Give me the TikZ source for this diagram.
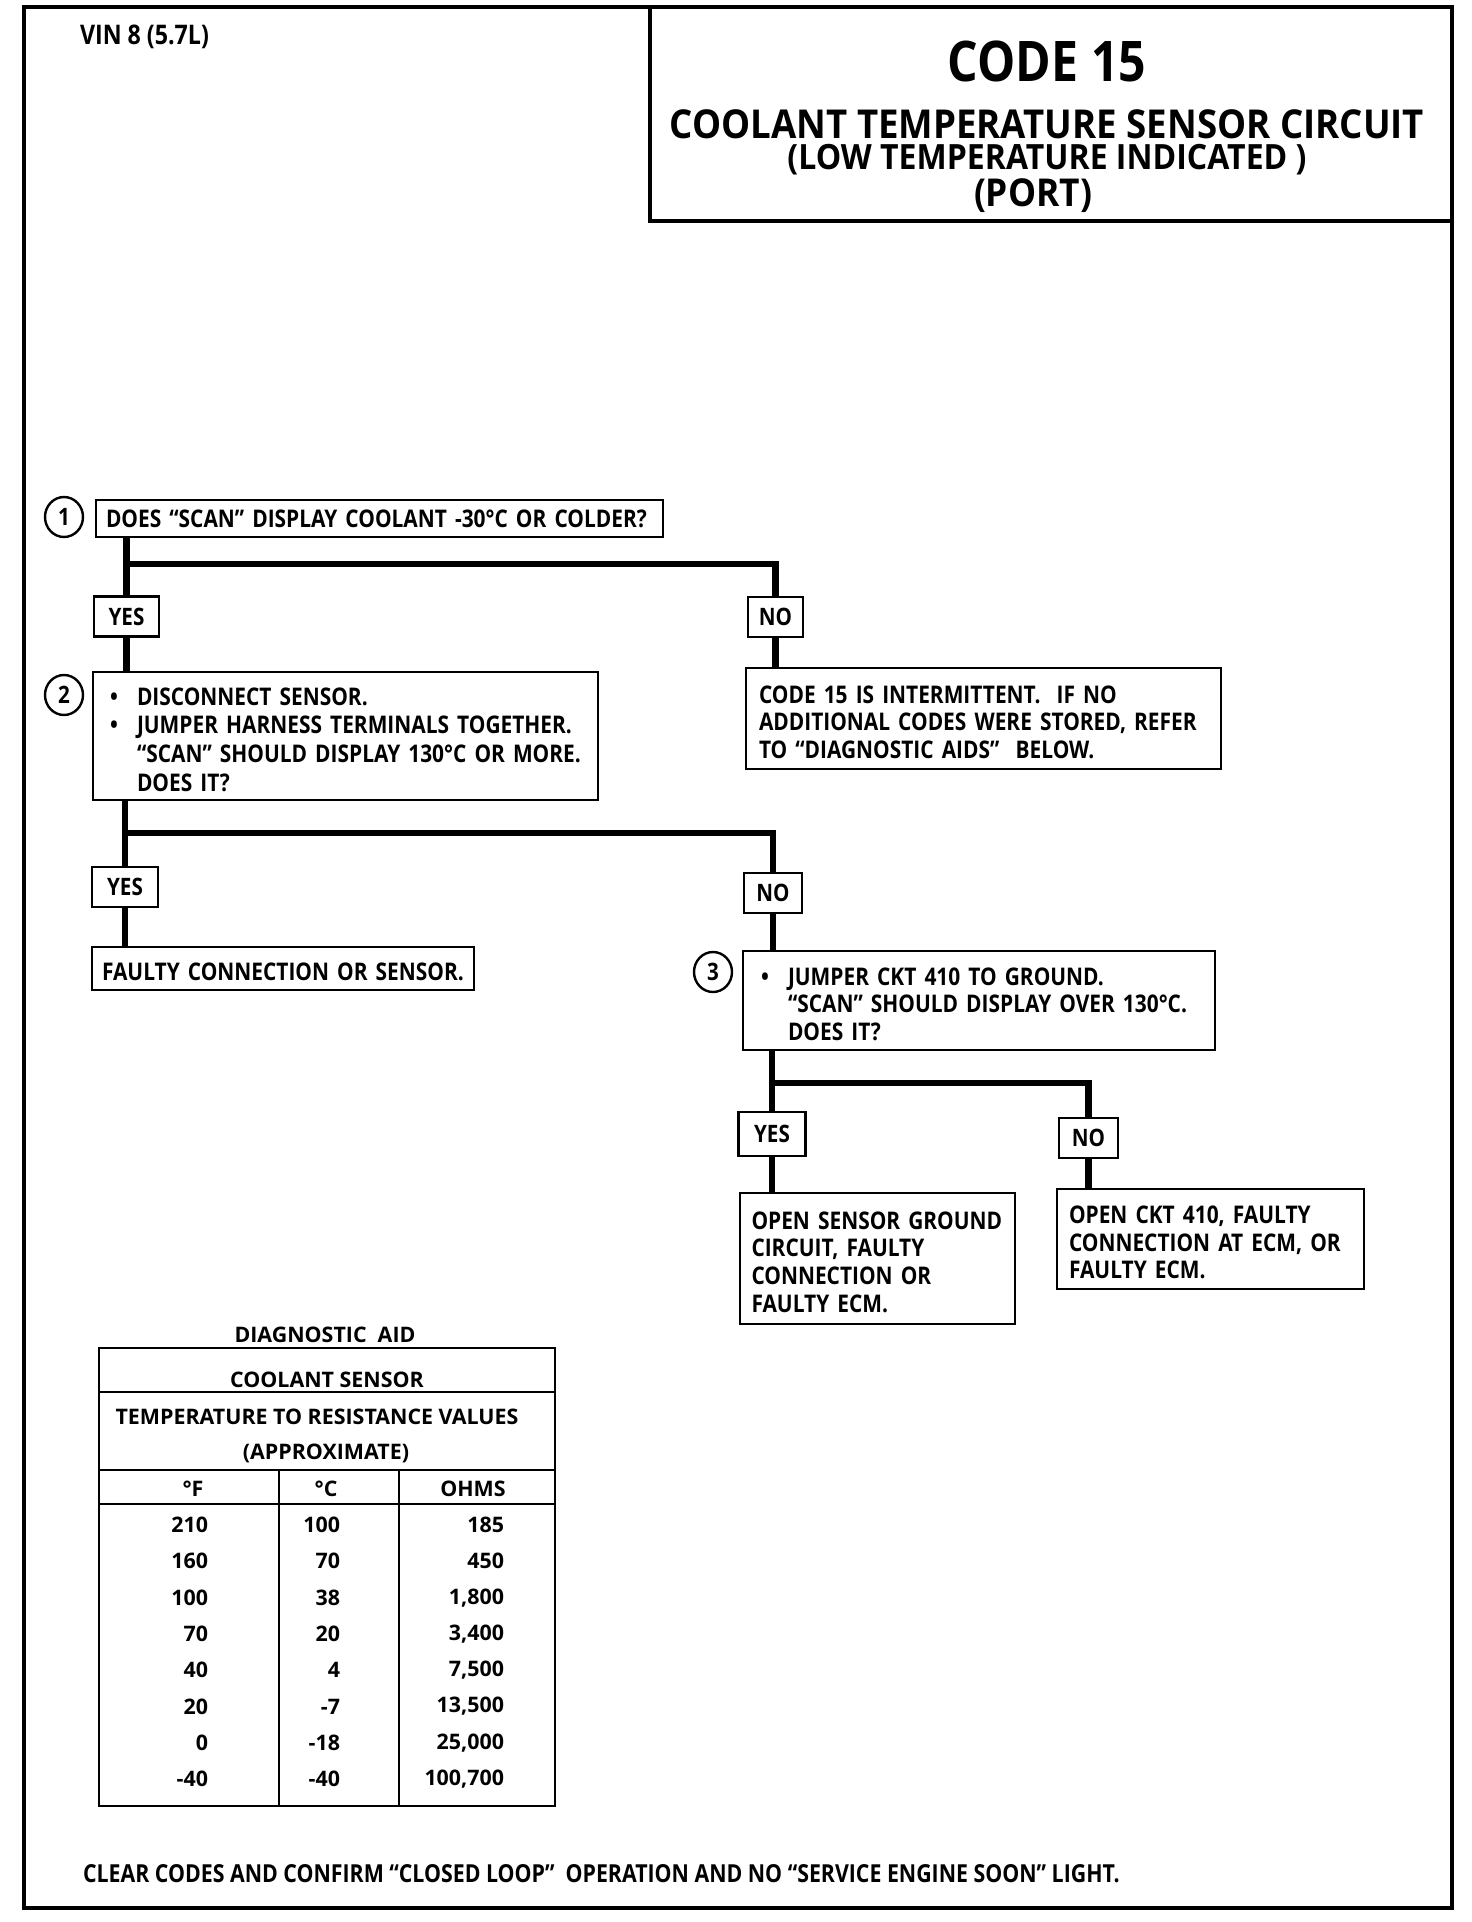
\documentclass[tikz,border=0pt]{standalone}
\usepackage{fontspec}
\setmainfont{Open Sans}[FakeStretch=0.86]
\newfontfamily\tabfont{Open Sans}
\newfontfamily\ttlfont{Open Sans}[FakeStretch=0.92]
\usetikzlibrary{shapes.geometric}
\newcommand{\bitem}{\makebox[13.5pt][l]{•}}
\newcommand{\bindent}{\hspace*{13.5pt}}
\newcommand{\lne}[1]{\mbox{#1}}
\begin{document}
\begin{tikzpicture}[x=0.5pt,y=-0.5pt,
  every node/.style={inner sep=0pt, outer sep=0pt},
  body/.style={font=\bfseries\fontsize{12.15}{13.8}\selectfont},
  box/.style={body, draw, line width=1.2pt, anchor=north west, align=left},
  lower/.style={execute at begin node={\rule{0pt}{12.4pt}}},
  ans/.style={draw, line width=1.2pt, minimum height=20pt, font=\bfseries\fontsize{12}{14}\selectfont},
  num/.style={draw, ellipse, line width=1.2pt, minimum width=19pt, minimum height=20pt, font=\bfseries\fontsize{12}{13}\selectfont},
  trunk/.style={line width=3.2pt},
  tab/.style={font=\tabfont\bfseries\fontsize{10.7}{12.8}\selectfont},
  rule/.style={line width=1.2pt}
]
\useasboundingbox (0,0) rectangle (1472,1922);
\fill[white] (0,0) rectangle (1472,1922);
% frame and title box
\draw[line width=2pt] (24,7) rectangle (1452,1908);
\node[draw, line width=1.6pt, anchor=north west, minimum width=401pt, minimum height=107pt] (titlebox) at (650,7) {};
\node[font=\bfseries\fontsize{13.5}{15}\selectfont, anchor=west] (vin) at (80,37) {VIN 8 (5.7L)};
\node[font=\bfseries\fontsize{28}{30}\selectfont] (code) at (1047,61) {CODE 15};
\node[font=\ttlfont\bfseries\fontsize{19.9}{22}\selectfont] (tline) at (1047,124) {COOLANT TEMPERATURE SENSOR CIRCUIT};
\node[font=\ttlfont\bfseries\fontsize{17.4}{20}\selectfont] (low) at (1047,160) {(LOW TEMPERATURE INDICATED )};
\node[font=\ttlfont\bfseries\fontsize{19.2}{22}\selectfont] (port) at (1033,196) {(PORT)};

% step 1
\node[num] (c1) at (64,517) {1};
\node[box, text width=273.5pt, inner xsep=5pt, minimum height=18.5pt] (q1) at (96,500) {\lne{DOES “SCAN” DISPLAY COOLANT -30°C OR COLDER?}};
\node[ans, minimum width=32.5pt] (y1) at (126.5,616.5) {YES};
\node[ans, minimum width=27.5pt] (n1) at (775.5,617) {NO};
\node[box, lower, text width=224.5pt, inner xsep=6.5pt, minimum height=50.5pt] (r1) at (746,668) {\lne{CODE 15 IS INTERMITTENT.\ \ IF NO}\\\lne{ADDITIONAL CODES WERE STORED,\ REFER}\\\lne{TO “DIAGNOSTIC AIDS”\ \ BELOW.}};
\coordinate (j1) at (0,564);

% step 2
\node[num] (c2) at (64,695) {2};
\node[box, lower, font=\bfseries\fontsize{12.15}{14.3}\selectfont, text width=235.5pt, inner xsep=8.5pt, minimum height=64pt] (q2) at (93,672) {\lne{\bitem DISCONNECT SENSOR.}\\\lne{\bitem JUMPER HARNESS TERMINALS TOGETHER.}\\\lne{\bindent “SCAN” SHOULD DISPLAY 130°C OR MORE.}\\\lne{\bindent DOES IT?}};
\node[ans, minimum width=33pt] (y2) at (125,887) {YES};
\node[ans, minimum width=29pt] (n2) at (773,893) {NO};
\node[box, lower, text width=181pt, inner xsep=5pt, minimum height=21.5pt] (r2) at (92,947) {\lne{FAULTY CONNECTION OR SENSOR.}};
\coordinate (j2) at (0,833);

% step 3
\node[num] (c3) at (713,972) {3};
\node[box, lower, text width=218pt, inner xsep=9pt, minimum height=49.5pt] (q3) at (743,951) {\lne{\bitem JUMPER CKT 410 TO GROUND.}\\\lne{\bindent “SCAN” SHOULD DISPLAY OVER 130°C.}\\\lne{\bindent DOES IT?}};
\node[ans, minimum width=33.5pt, minimum height=22pt] (y3) at (772,1134) {YES};
\node[ans, minimum width=29.5pt] (n3) at (1088.5,1138) {NO};
\node[box, lower, text width=126pt, inner xsep=5.75pt, minimum height=65.5pt] (r3) at (740,1193) {\lne{OPEN SENSOR GROUND}\\\lne{CIRCUIT, FAULTY}\\\lne{CONNECTION OR}\\\lne{FAULTY ECM.}};
\node[box, lower, text width=141.5pt, inner xsep=6pt, minimum height=50pt] (r4) at (1057,1189) {\lne{OPEN CKT 410, FAULTY}\\\lne{CONNECTION AT ECM, OR}\\\lne{FAULTY ECM.}};
\coordinate (j3) at (0,1083);

% connectors
\draw[trunk] (y1.north |- q1.south) -- (y1.north);
\draw[trunk] (y1.north |- j1) -| (n1.north);
\draw[trunk] (y1.south) -- (y1.south |- q2.north);
\draw[trunk] (n1.south) -- (n1.south |- r1.north);
\draw[trunk] (y2.north |- q2.south) -- (y2.north);
\draw[trunk] (y2.north |- j2) -| (n2.north);
\draw[trunk] (y2.south) -- (y2.south |- r2.north);
\draw[trunk] (n2.south) -- (n2.south |- q3.north);
\draw[trunk] (y3.north |- q3.south) -- (y3.north);
\draw[trunk] (y3.north |- j3) -| (n3.north);
\draw[trunk] (y3.south) -- (y3.south |- r3.north);
\draw[trunk] (n3.south) -- (n3.south |- r4.north);

% table
\node[tab] (da) at (325,1335) {DIAGNOSTIC\ \ AID};
\draw[rule] (99,1348) rectangle (555,1806);
\draw[rule] (99,1392) -- (555,1392);
\draw[rule] (99,1470) -- (555,1470);
\draw[rule] (99,1504) -- (555,1504);
\draw[rule] (279,1470) -- (279,1806);
\draw[rule] (399,1470) -- (399,1806);
\node[tab] (cs) at (327,1380) {COOLANT SENSOR};
\node[tab] (trv) at (317,1417) {TEMPERATURE TO RESISTANCE VALUES};
\node[tab] (apx) at (326,1453) {(APPROXIMATE)};
\node[tab] (hf) at (193,1489) {°F};
\node[tab] (hc) at (326,1489) {°C};
\node[tab] (ho) at (473,1489) {OHMS};
\foreach \f/\c/\o [count=\i from 0] in {210/100/185, 160/70/450, 100/38/1{,}800, 70/20/3{,}400, 40/4/7{,}500, 20/-7/13{,}500, 0/-18/25{,}000, -40/-40/100{,}700}{
  \node[tab, anchor=east] (f\i) at (208,{1525+36.3*\i}) {\f};
  \node[tab, anchor=east] (d\i) at (340,{1525+36.3*\i}) {\c};
  \node[tab, anchor=east] (o\i) at (504,{1525+36.3*\i}) {\o};
}

% footer
\node[font=\bfseries\fontsize{12.4}{14}\selectfont, anchor=west] (foot) at (83,1874) {CLEAR CODES AND CONFIRM “CLOSED LOOP”\ \ OPERATION AND NO “SERVICE ENGINE SOON” LIGHT.};
\end{tikzpicture}
\end{document}
